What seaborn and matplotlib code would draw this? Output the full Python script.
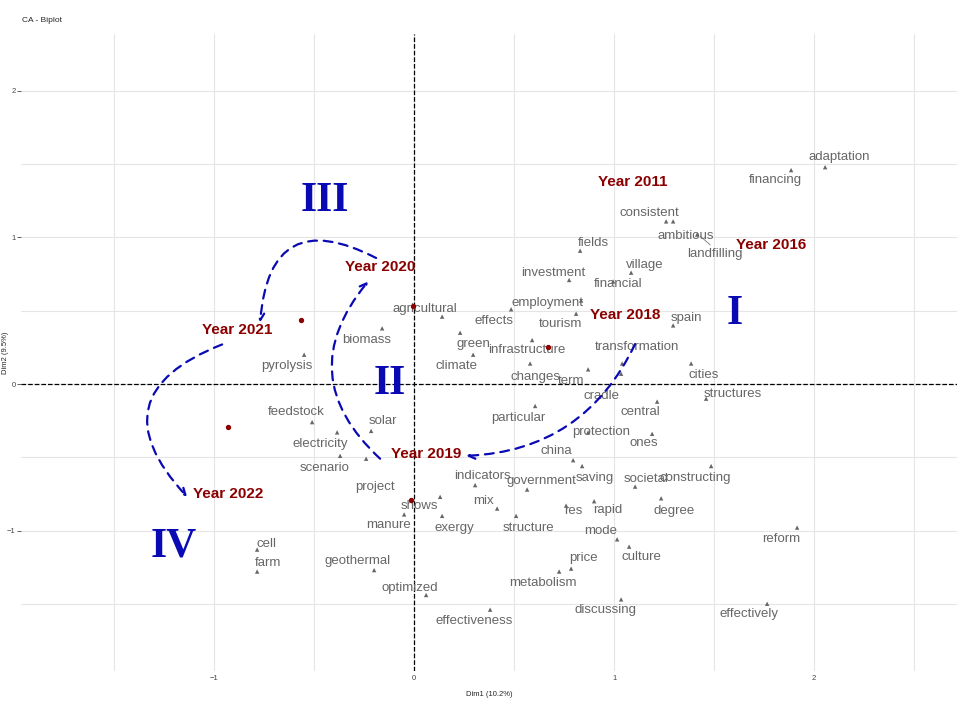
import numpy as np
import pandas as pd
import matplotlib.pyplot as plt
import seaborn as sns

# column (word) coordinates
words = ['adaptation', 'financing', 'consistent', 'ambitious', 'landfilling', 'fields', 'village',
         'investment', 'financial', 'employment', 'agricultural', 'effects', 'tourism', 'spain',
         'biomass', 'green', 'infrastructure', 'transformation', 'climate', 'pyrolysis', 'changes',
         'term', 'cities', 'cradle', 'structures', 'central', 'particular', 'feedstock', 'solar',
         'protection', 'ones', 'electricity', 'china', 'scenario', 'saving', 'constructing',
         'indicators', 'government', 'societal', 'project', 'mix', 'res', 'rapid', 'degree',
         'shows', 'exergy', 'structure', 'manure', 'mode', 'reform', 'cell', 'culture',
         'geothermal', 'price', 'farm', 'metabolism', 'optimized', 'discussing', 'effectively',
         'effectiveness']
word_x = [2.055, 1.885, 1.26, 1.295, 1.415, 0.83, 1.085, 0.775, 0.995, 0.835, 0.14, 0.485, 0.81, 1.295,
          -0.16, 0.23, 0.59, 1.04, 0.295, -0.55, 0.58, 0.87, 1.385, 1.035, 1.46, 1.215, 0.605, -0.51, -0.215,
          0.87, 1.19, -0.385, 0.795, -0.37, 0.84, 1.485, 0.305, 0.565, 1.105, -0.24, 0.415, 0.76, 0.9, 1.235,
          0.13, 0.14, 0.51, -0.05, 1.015, 1.915, -0.785, 1.075, -0.2, 0.785, -0.785, 0.725, 0.06, 1.035, 1.765,
          0.38]
word_y = [1.48, 1.46, 1.11, 1.11, 1.02, 0.91, 0.76, 0.71, 0.70, 0.57, 0.46, 0.51, 0.48, 0.40,
          0.38, 0.35, 0.30, 0.14, 0.20, 0.20, 0.14, 0.10, 0.14, 0.07, -0.10, -0.12, -0.15, -0.26, -0.32,
          -0.33, -0.34, -0.33, -0.52, -0.49, -0.56, -0.56, -0.69, -0.72, -0.70, -0.51, -0.85, -0.83, -0.80, -0.78,
          -0.77, -0.90, -0.90, -0.89, -1.06, -0.98, -1.13, -1.11, -1.27, -1.26, -1.28, -1.28, -1.44, -1.47, -1.50,
          -1.54]
label_x = [2.125, 1.805, 1.175, 1.36, 1.505, 0.895, 1.155, 0.695, 1.02, 0.665, 0.055, 0.4, 0.73, 1.36,
           -0.235, 0.295, 0.565, 1.115, 0.21, -0.635, 0.605, 0.785, 1.45, 0.935, 1.595, 1.13, 0.52, -0.59, -0.155,
           0.935, 1.15, -0.47, 0.71, -0.45, 0.905, 1.405, 0.34, 0.635, 1.16, -0.195, 0.345, 0.795, 0.97, 1.3,
           0.025, 0.2, 0.57, -0.13, 0.935, 1.835, -0.74, 1.135, -0.285, 0.845, -0.73, 0.645, -0.02, 0.955, 1.675,
           0.3]
label_y = [1.55, 1.39, 1.17, 1.01, 0.89, 0.96, 0.81, 0.76, 0.68, 0.55, 0.51, 0.43, 0.41, 0.45,
           0.30, 0.27, 0.23, 0.25, 0.12, 0.12, 0.05, 0.02, 0.06, -0.08, -0.07, -0.19, -0.23, -0.19, -0.25,
           -0.33, -0.40, -0.41, -0.46, -0.57, -0.64, -0.64, -0.63, -0.66, -0.65, -0.70, -0.80, -0.87, -0.86, -0.87,
           -0.83, -0.98, -0.98, -0.96, -1.00, -1.06, -1.09, -1.18, -1.21, -1.19, -1.22, -1.36, -1.39, -1.54, -1.57,
           -1.62]

# row (year) coordinates
years = ['Year 2011', 'Year 2016', 'Year 2018', 'Year 2019', 'Year 2020', 'Year 2021', 'Year 2022']
year_lx = [1.095, 1.785, 1.055, 0.06, -0.17, -0.885, -0.93]
year_ly = [1.38, 0.95, 0.47, -0.48, 0.80, 0.37, -0.75]
dot_x = [0.67, -0.005, -0.565, -0.93, -0.015]
dot_y = [0.25, 0.53, 0.44, -0.29, -0.79]

quadrants = ['I', 'II', 'III', 'IV']
quad_x = [1.605, -0.12, -0.445, -1.2]
quad_y = [0.48, 0.0, 1.25, -1.11]

# trajectory arrows: start, end, curvature
arr_start = [(1.105, 0.273), (-0.17, -0.51), (-0.19, 0.86), (-0.96, 0.27)]
arr_end = [(0.26, -0.49), (-0.23, 0.70), (-0.77, 0.42), (-1.135, -0.77)]
arr_rad = [-0.3, -0.47, 0.75, 0.73]

df = pd.DataFrame({'word': words, 'x': word_x, 'y': word_y})

sns.set_theme(style='whitegrid')
plt.rcParams['font.family'] = ['Liberation Sans', 'DejaVu Sans']
fig = plt.figure(figsize=(9.6, 7.2), dpi=100)
ax = fig.add_axes([0.022, 0.068, 0.975, 0.885])

sns.scatterplot(data=df, x='x', y='y', marker='^', s=10, color='#666666', edgecolor='none', ax=ax)
for w, lx, ly in zip(words, label_x, label_y):
    ax.text(lx, ly, w, color='#666666', fontsize=9.5, ha='center', va='center')
# landfilling leader line
ax.plot([1.43, 1.48], [1.01, 0.95], color='#888888', lw=0.7)

ax.scatter(dot_x, dot_y, color='#8B0000', s=8, zorder=3)
for t, lx, ly in zip(years, year_lx, year_ly):
    ax.text(lx, ly, t, color='#8B0000', fontsize=11, fontweight='bold', ha='center', va='center')

for q, qx, qy in zip(quadrants, quad_x, quad_y):
    ax.text(qx, qy, q, color='#0A0AB4', fontsize=30, fontweight='bold', ha='center', va='center',
            family='Liberation Serif')

for s, e, r in zip(arr_start, arr_end, arr_rad):
    ax.annotate('', xy=e, xytext=s,
                arrowprops=dict(arrowstyle='->', color='#0A0AB4', lw=1.6, linestyle=(0, (4, 3)),
                                connectionstyle=f'arc3,rad={r}', shrinkA=0, shrinkB=0))

ax.axhline(0, color='black', lw=0.9, ls='--')
ax.axvline(0, color='black', lw=0.9, ls='--')

ax.set_xticks([-1, 0, 1, 2])
ax.set_yticks([-1, 0, 1, 2])
ax.set_xticks(np.arange(-1.5, 2.6, 1.0), minor=True)
ax.set_yticks(np.arange(-1.5, 2.6, 1.0), minor=True)
ax.grid(which='both', color='#e5e5e5', lw=0.8)
ax.tick_params(labelsize=5.5, length=2, pad=1, colors='#444444')
ax.tick_params(axis='y', left=True, length=3, width=0.6)
for s in ax.spines.values():
    s.set_visible(False)
ax.set_xlabel('Dim1 (10.2%)', fontsize=5.5, labelpad=6)
ax.set_ylabel('Dim2 (9.5%)', fontsize=5.5)
ax.yaxis.set_label_coords(-0.013, 0.5)
fig.text(0.023, 0.972, 'CA - Biplot', fontsize=6, va='center')

ax.set_xlim(-1.965, 2.715)
ax.set_ylim(-1.959, 2.39)
ax.set_autoscale_on(False)

fig.savefig('out.png', dpi=100)
